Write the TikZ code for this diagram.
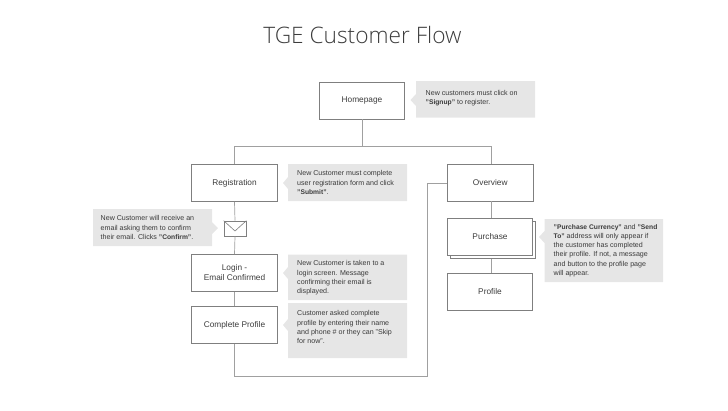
\documentclass[tikz,border=0pt]{standalone}
\usepackage{fontspec}
\setmainfont{Liberation Sans}
\newfontfamily\titlefont{Open Sans Light}
\newcommand{\nb}[1]{{\fontsize{6.7}{9.2}\selectfont\bfseries #1}}
\usetikzlibrary{calc}
\definecolor{ink}{HTML}{3C3C3C}
\definecolor{noteink}{HTML}{3A3A3A}
\definecolor{edgecol}{HTML}{7F7F7F}
\definecolor{linkcol}{HTML}{A0A0A0}
\definecolor{calloutfill}{HTML}{E6E6E6}
\tikzset{
  x=1pt,y=-1pt,
  flowbox/.style={draw=edgecol,line width=0.8pt,fill=white,minimum width=85.5pt,minimum height=37pt,inner sep=0pt,align=center,text=ink,font=\fontsize{8.3}{10}\selectfont},
  link/.style={draw=linkcol,line width=0.7pt},
  notetext/.style={anchor=north west,inner sep=0pt,align=left,text=noteink,font=\fontsize{7.1}{9.2}\selectfont},
  notch/.style={fill=calloutfill,draw=none},
}
\begin{document}
\begin{tikzpicture}
\useasboundingbox (0,0) rectangle (728,410);
\node[text=ink,font=\titlefont\fontsize{22.7}{26}\selectfont] (title) at (362.5,35) {TGE Customer Flow};

% callouts
\fill[notch] (416,81) rectangle (535,117.5) (416,94) -- (410.5,100) -- (416,106) -- cycle;
\fill[notch] (288,164) rectangle (407,201) (288,177) -- (283,183) -- (288,189) -- cycle;
\fill[notch] (93,209) rectangle (212,246) (212,222) -- (218,228) -- (212,234) -- cycle;
\fill[notch] (288,254.5) rectangle (407,300) (288,267) -- (283,273) -- (288,279) -- cycle;
\fill[notch] (288,303) rectangle (407,358) (288,319) -- (283,325) -- (288,331) -- cycle;
\fill[notch] (544.5,219) rectangle (663,282) (544.5,231) -- (539,237) -- (544.5,243) -- cycle;

\node[notetext] (n1) at (425.5,90) {New customers must click on\\\nb{"Signup"} to register.};
\node[notetext] (n2) at (297,170.5) {New Customer must complete\\user registration form and click\\\nb{"Submit"}.};
\node[notetext] (n3) at (100.5,215.5) {New Customer will receive an\\email asking them to confirm\\their email. Clicks \nb{"Confirm"}.};
\node[notetext] (n4) at (297,260.5) {New Customer is taken to a\\login screen. Message\\confirming their email is\\displayed.};
\node[notetext] (n5) at (297,310.5) {Customer asked complete\\profile by entering their name\\and phone \# or they can "Skip\\for now".};
\node[notetext] (n6) at (553.5,224) {\nb{"Purchase Currency"} and \nb{"Send}\\\nb{To"} address will only appear if\\the customer has completed\\their profile. If not, a message\\and button to the profile page\\will appear.};

% boxes
\node[flowbox] (home) at (362,100.5) {Homepage};
\node[flowbox] (reg) at (234.5,183) {Registration};
\node[flowbox] (login) at (234.5,273) {Login -\\Email Confirmed};
\node[flowbox] (complete) at (234.5,325) {Complete Profile};
\node[flowbox] (over) at (490.2,183) {Overview};
\node[flowbox,minimum width=85pt] (purchback) at (493,240) {};
\node[flowbox,minimum width=85pt] (purch) at (490,237) {Purchase};
\node[flowbox,minimum width=85pt] (prof) at (490,291.5) {Profile};
\node[draw=edgecol,line width=0.7pt,fill=white,minimum width=22pt,minimum height=15pt,inner sep=0pt] (mail) at (235,228.5) {};
\draw[edgecol,line width=0.6pt] (mail.north west) -- ($(mail.center)+(0,2.5)$) -- (mail.north east);

% connectors
\coordinate (jn) at (home.south |- 0,146.5);
\coordinate (rtop) at (491.5,146.5);
\coordinate (rx) at (491.5,201);
\coordinate (low) at (reg.south |- 0,376);
\coordinate (up) at (427.5,376);
\coordinate (upt) at (427.5,183);
\draw[link] (home.south) -- (jn);
\draw[link] (reg.north) -- (reg.north |- jn) -- (rtop) -- (rtop |- over.north);
\draw[link] (reg.south) -- (mail.north);
\draw[link] (mail.south) -- (login.north);
\draw[link] (login.south) -- (complete.north);
\draw[link] (complete.south) -- (low) -- (up) -- (upt) -- (over.west);
\draw[link] (rx) -- (rx |- purch.north);
\draw[link] (purchback.south -| rx) -- (prof.north -| rx);
\end{tikzpicture}
\end{document}
